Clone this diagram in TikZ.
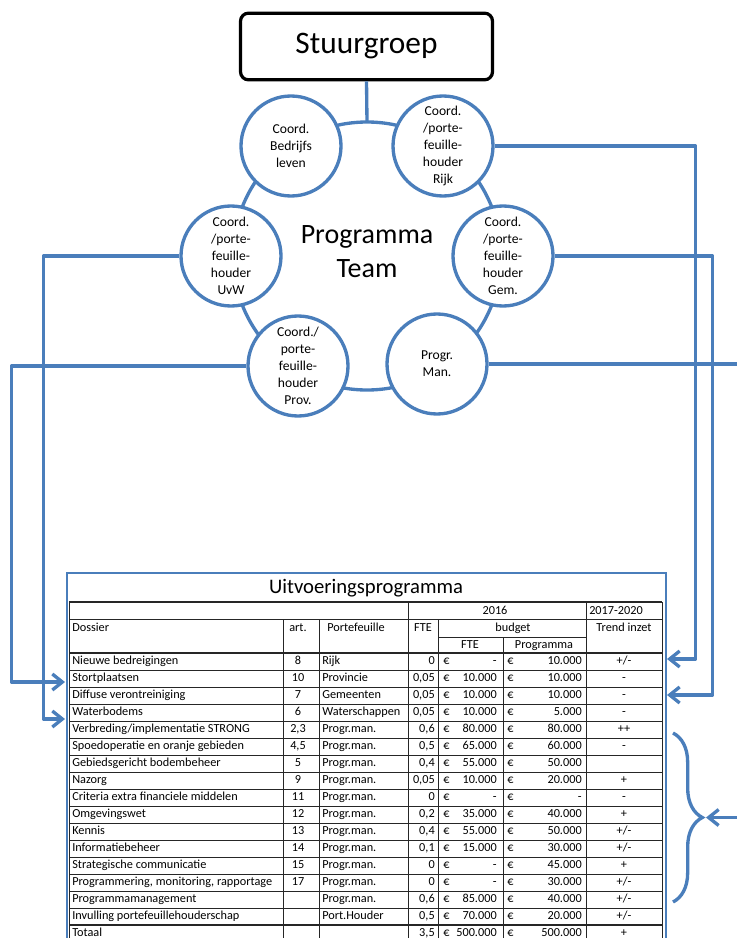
\documentclass[tikz,border=0pt]{standalone}
\usepackage{fontspec}
\setmainfont{Carlito}
\usetikzlibrary{arrows.meta,decorations.pathreplacing}
\definecolor{ovblue}{RGB}{74,126,187}

\begin{document}
\begin{tikzpicture}[
  x=0.75pt, y=-0.75pt,  % one unit = one pixel of the sketch, y runs down
  link/.style={draw=ovblue, line width=2.5pt, line join=round, -{Straight Barb[length=7.5pt,width=12pt]}},
  member/.style={circle, draw=ovblue, line width=2.5pt, fill=white, minimum size=75pt,
    inner sep=0pt, align=center, font=\fontsize{10.2}{12.75}\selectfont},
  cell/.style={inner sep=0pt, text height=6.3pt, text depth=1.8pt, font=\fontsize{9.2}{11}\selectfont},
  tline/.style={draw=black!85, line width=0.6pt},
  tthick/.style={draw=black!85, line width=1.3pt}
]
\useasboundingbox (0,0) rectangle (737,938);

% ---------------- Stuurgroep and programma team ----------------
\node[draw=black, line width=2.4pt, rounded corners=6pt, minimum width=189pt, minimum height=50pt,
  font=\fontsize{23.5}{28}\selectfont] (stuur) at (366.5,46.5) {Stuurgroep};

\coordinate (mid) at (367,256);
\coordinate (ringtop) at (367,122);
\draw[ovblue, line width=2.5pt] (mid) circle (134);   % ring behind the members
\draw[ovblue, line width=2.5pt] (stuur.south) -- (ringtop);

\node[align=center, font=\fontsize{21}{25.5}\selectfont] (team) at (367,252) {Programma\\Team};

\node[member] (bedrijf) at (291,146) {Coord.\\Bedrijfs\\leven};
\node[member] (rijk)    at (443,146) {Coord.\\/porte-\\feuille-\\houder\\Rijk};
\node[member] (uvw)     at (231,256) {Coord.\\/porte-\\feuille-\\houder\\UvW};
\node[member] (gem)     at (503,256) {Coord.\\/porte-\\feuille-\\houder\\Gem.};
\node[member] (prov)    at (298,366) {Coord./\\porte-\\feuille-\\houder\\Prov.};
\node[member] (man)     at (437,364) {Progr.\\Man.};

% ---------------- Uitvoeringsprogramma table ----------------
\draw[ovblue, line width=1.6pt] (67,950) |- (666,573) -- (666,950);
\node[font=\fontsize{15.5}{18}\selectfont] (title) at (366,588) {Uitvoeringsprogramma};

% horizontal rules
\draw[tthick] (69,602) -- (662,602);
\draw[tline] (69,619.5) -- (662,619.5);
\draw[tline] (438,637) -- (586,637);
\draw[tthick] (69,653) -- (662,653);
\foreach \k in {1,...,15}
  \draw[tline] (69,{653+17*\k}) -- (662,{653+17*\k});
\draw[tthick] (69,925) -- (662,925);

% vertical rules
\foreach \x in {69,408,586,662}
  \draw[tline] (\x,602) -- (\x,938);
\foreach \x in {283,319,438}
  \draw[tline] (\x,619.5) -- (\x,938);
\draw[tline] (503,637) -- (503,938);

% header
\node[cell] (h2016)  at (495,611) {2016};
\node[cell, anchor=west] (hyears) at (589,611) {2017-2020};
\node[cell, anchor=west] (hdos) at (72,628) {Dossier};
\node[cell] (hart)   at (298,628) {art.};
\node[cell] (hport)  at (356,628) {Portefeuille};
\node[cell] (hfte)   at (423,628) {FTE};
\node[cell] (hbud)   at (513,628) {budget};
\node[cell] (htrend) at (624,628) {Trend inzet};
\node[cell] (hbfte)  at (470,645) {FTE};
\node[cell] (hbprog) at (544,645) {Programma};

% rows
\foreach \dos/\art/\port/\fte/\bfte/\bprog/\trend [count=\r] in {
  Nieuwe bedreigingen/8/Rijk/0/{-\hspace{9pt}}/10.000/{+/-},
  Stortplaatsen/10/Provincie/{0,05}/10.000/10.000/-,
  Diffuse verontreiniging/7/Gemeenten/{0,05}/10.000/10.000/-,
  Waterbodems/6/Waterschappen/{0,05}/10.000/5.000/-,
  {Verbreding/implementatie STRONG}/{2,3}/Progr.man./{0,6}/80.000/80.000/++,
  Spoedoperatie en oranje gebieden/{4,5}/Progr.man./{0,5}/65.000/60.000/-,
  Gebiedsgericht bodembeheer/5/Progr.man./{0,4}/55.000/50.000/{},
  Nazorg/9/Progr.man./{0,05}/10.000/20.000/+,
  Criteria extra financiele middelen/11/Progr.man./0/{-\hspace{9pt}}/{-\hspace{9pt}}/-,
  Omgevingswet/12/Progr.man./{0,2}/35.000/40.000/+,
  Kennis/13/Progr.man./{0,4}/55.000/50.000/{+/-},
  Informatiebeheer/14/Progr.man./{0,1}/15.000/30.000/{+/-},
  Strategische communicatie/15/Progr.man./0/{-\hspace{9pt}}/45.000/+,
  {Programmering, monitoring, rapportage}/17/Progr.man./0/{-\hspace{9pt}}/30.000/{+/-},
  Programmamanagement/{}/Progr.man./{0,6}/85.000/40.000/{+/-},
  Invulling portefeuillehouderschap/{}/Port.Houder/{0,5}/70.000/20.000/{+/-},
  Totaal/{}/{}/{3,5}/500.000/500.000/+
} {
  \pgfmathsetmacro\ry{653+17*\r-8.5}
  \node[cell, anchor=west] (dos\r)  at (72,\ry)  {\dos};
  \node[cell]              (art\r)  at (298,\ry) {\art};
  \node[cell, anchor=west] (port\r) at (322,\ry) {\port};
  \node[cell, anchor=east] (fte\r)  at (435,\ry) {\fte};
  \node[cell, anchor=west] (eura\r) at (443,\ry) {€};
  \node[cell, anchor=east] (bf\r)   at (497,\ry) {\bfte};
  \node[cell, anchor=west] (eurb\r) at (507,\ry) {€};
  \node[cell, anchor=east] (bp\r)   at (582,\ry) {\bprog};
  \node[cell]              (tr\r)   at (624,\ry) {\trend};
}

% ---------------- Links from the team to the table ----------------
\coordinate (inRijk)  at (667,659);
\coordinate (inGem)   at (667,695);
\coordinate (inStort) at (65,682);
\coordinate (inWater) at (65,719);
\coordinate (braceTop) at (673,733);
\coordinate (braceBot) at (673,902);
\coordinate (braceTip) at (706,817.5);
\coordinate (manOut)  at (737,364);
\coordinate (tipOut)  at (737,817.5);

\draw[ovblue, line width=2.5pt, decorate, decoration={brace, amplitude=22pt}] (braceTop) -- (braceBot);

\draw[link] (rijk.east) -- ++(201,0) |- (inRijk);
\draw[link] (gem.east) -- ++(158,0) |- (inGem);
\draw[ovblue, line width=2.5pt] (man.east) -- (manOut);  % runs on past the page edge
\draw[link] (tipOut) -- (braceTip);
\draw[link] (uvw.west) -- ++(-136,0) |- (inWater);
\draw[link] (prov.west) -- ++(-235,0) |- (inStort);

\end{tikzpicture}
\end{document}
